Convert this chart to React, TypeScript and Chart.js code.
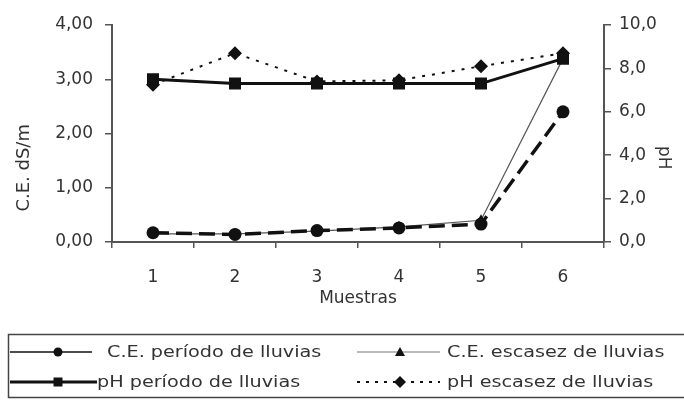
import React, { useEffect, useRef } from 'react';
import { Chart, registerables } from 'chart.js';

Chart.register(...registerables);

// ---- data ----
const categories = ['1', '2', '3', '4', '5', '6'];
const ceLluvias = [0.17, 0.14, 0.21, 0.26, 0.33, 2.4];
const ceEscasez = [0.15, 0.15, 0.2, 0.28, 0.4, 3.38];
const phLluvias = [7.5, 7.3, 7.3, 7.3, 7.3, 8.45];
const phEscasez = [7.25, 8.7, 7.4, 7.45, 8.1, 8.7];
const leftTickLabels = ['0,00', '1,00', '2,00', '3,00', '4,00'];
const rightTickLabels = ['0,0', '2,0', '4,0', '6,0', '8,0', '10,0'];
const seriesLabels = [
  'C.E. período de lluvias',
  'C.E. escasez de lluvias',
  'pH período de lluvias',
  'pH escasez de lluvias',
];

const FONT = 'DejaVu Sans';
const TEXT = '#333';
const AXIS = '#555';

type LegendSpec = {
  y: number; x0: number; x1: number; mx: number; tx: number;
  width: number; dash: number[]; color: string; style: string; r: number; label: string;
};

function drawMarker(ctx: CanvasRenderingContext2D, style: string, x: number, y: number, r: number) {
  ctx.beginPath();
  if (style === 'circle') {
    ctx.arc(x, y, r, 0, Math.PI * 2);
  } else if (style === 'rect') {
    ctx.rect(x - r, y - r, 2 * r, 2 * r);
  } else if (style === 'triangle') {
    ctx.moveTo(x, y - r);
    ctx.lineTo(x + r, y + r * 0.8);
    ctx.lineTo(x - r, y + r * 0.8);
    ctx.closePath();
  } else {
    ctx.moveTo(x, y - r);
    ctx.lineTo(x + r, y);
    ctx.lineTo(x, y + r);
    ctx.lineTo(x - r, y);
    ctx.closePath();
  }
  ctx.fill();
}

const legendPlugin = {
  id: 'boxLegend',
  afterDraw(chart: any) {
    const ctx: CanvasRenderingContext2D = chart.ctx;
    ctx.save();
    ctx.setLineDash([]);
    ctx.strokeStyle = '#444';
    ctx.lineWidth = 1.5;
    ctx.strokeRect(8.5, 334.5, 700, 63);
    const items: LegendSpec[] = [
      { y: 352, x0: 10, x1: 92, mx: 58, tx: 107, width: 1.5, dash: [], color: '#111', style: 'circle', r: 4.5, label: seriesLabels[0] },
      { y: 352, x0: 357, x1: 440, mx: 400, tx: 447, width: 1, dash: [], color: '#777', style: 'triangle', r: 5, label: seriesLabels[1] },
      { y: 382, x0: 10, x1: 97, mx: 58, tx: 97, width: 3, dash: [], color: '#111', style: 'rect', r: 4.5, label: seriesLabels[2] },
      { y: 382, x0: 357, x1: 440, mx: 400, tx: 447, width: 2, dash: [3, 6], color: '#111', style: 'diamond', r: 6, label: seriesLabels[3] },
    ];
    for (const it of items) {
      ctx.beginPath();
      ctx.setLineDash(it.dash);
      ctx.strokeStyle = it.color;
      ctx.lineWidth = it.width;
      ctx.moveTo(it.x0, it.y);
      ctx.lineTo(it.x1, it.y);
      ctx.stroke();
      ctx.setLineDash([]);
      ctx.fillStyle = '#111';
      drawMarker(ctx, it.style, it.mx, it.y, it.r);
      ctx.save();
      ctx.translate(it.tx, it.y);
      ctx.scale(1.2, 1);
      ctx.font = `16px "${FONT}"`;
      ctx.fillStyle = TEXT;
      ctx.textBaseline = 'middle';
      ctx.textAlign = 'left';
      ctx.fillText(it.label, 0, 1);
      ctx.restore();
    }
    ctx.restore();
  },
};

export default function App() {
  const ref = useRef<HTMLCanvasElement | null>(null);

  useEffect(() => {
    if (!ref.current) return;
    const tickFont = { family: FONT, size: 17 };
    const chart = new Chart(ref.current, {
      type: 'line',
      data: {
        labels: categories,
        datasets: [
          {
            label: seriesLabels[2],
            data: phLluvias,
            yAxisID: 'y1',
            borderColor: '#111',
            backgroundColor: '#111',
            borderWidth: 3,
            pointStyle: 'rect',
            pointRadius: 8.5,
            pointBorderWidth: 0,
            tension: 0,
          },
          {
            label: seriesLabels[3],
            data: phEscasez,
            yAxisID: 'y1',
            borderColor: '#111',
            backgroundColor: '#111',
            borderWidth: 2,
            borderDash: [3, 7],
            pointStyle: 'rectRot',
            pointRadius: 7,
            pointBorderWidth: 0,
            tension: 0,
          },
          {
            label: seriesLabels[0],
            data: ceLluvias,
            yAxisID: 'y',
            borderColor: '#111',
            backgroundColor: '#111',
            borderWidth: 3.5,
            borderDash: [16, 7],
            pointStyle: 'circle',
            pointRadius: 6.5,
            pointBorderWidth: 0,
            tension: 0,
          },
          {
            label: seriesLabels[1],
            data: ceEscasez,
            yAxisID: 'y',
            borderColor: '#555',
            backgroundColor: '#111',
            borderWidth: 1.2,
            pointStyle: 'triangle',
            pointRadius: 6,
            pointBorderWidth: 0,
            tension: 0,
          },
        ],
      },
      options: {
        animation: false,
        responsive: true,
        maintainAspectRatio: false,
        events: [],
        layout: { padding: { top: 25, left: 0, right: 0, bottom: 88 } },
        plugins: {
          legend: { display: false },
          tooltip: { enabled: false },
        },
        scales: {
          x: {
            type: 'category',
            offset: true,
            grid: {
              display: true,
              drawOnChartArea: false,
              drawTicks: true,
              tickLength: 6,
              offset: true,
              color: AXIS,
              lineWidth: 1.5,
            },
            border: { display: true, color: AXIS, width: 2 },
            ticks: { font: tickFont, color: TEXT, padding: 19, maxRotation: 0 },
            title: {
              display: true,
              text: 'Muestras',
              font: tickFont,
              color: TEXT,
              padding: { top: 0, bottom: 3 },
            },
            afterFit: (s: any) => { s.height = 70; },
          },
          y: {
            position: 'left',
            min: 0,
            max: 4,
            grid: { drawOnChartArea: false, tickLength: 7, color: AXIS, lineWidth: 1.5 },
            border: { display: true, color: AXIS, width: 2 },
            ticks: {
              stepSize: 1,
              padding: 12,
              font: tickFont,
              color: TEXT,
              callback: (_v: any, i: number) => leftTickLabels[i],
            },
            title: {
              display: true,
              text: 'C.E. dS/m' + '            ',
              font: { family: FONT, size: 18 },
              color: TEXT,
              padding: { top: 14, bottom: 0 },
            },
            afterFit: (s: any) => { s.width = 112; },
          },
          y1: {
            position: 'right',
            min: 0,
            max: 10,
            grid: { drawOnChartArea: false, tickLength: 7, color: AXIS, lineWidth: 1.5 },
            border: { display: true, color: AXIS, width: 2 },
            ticks: {
              stepSize: 2,
              padding: 8,
              font: tickFont,
              color: TEXT,
              callback: (_v: any, i: number) => rightTickLabels[i],
            },
            title: {
              display: true,
              text: '         ' + 'pH',
              font: tickFont,
              color: TEXT,
              padding: { top: 10, bottom: 0 },
            },
            afterFit: (s: any) => { s.width = 80; },
          },
        },
      } as any,
      plugins: [legendPlugin],
    });
    return () => chart.destroy();
  }, []);

  return (
    <div style={{ position: 'absolute', left: 0, top: 0, width: 684, height: 400, background: '#fff' }}>
      <canvas ref={ref} />
    </div>
  );
}
